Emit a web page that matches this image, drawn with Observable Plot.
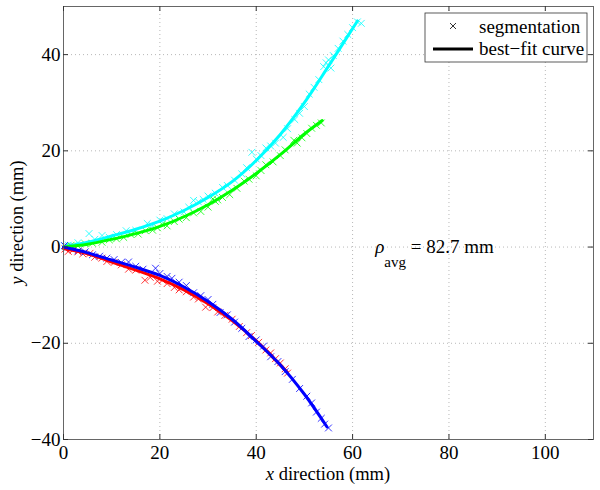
<!DOCTYPE html>
<html>
<head>
<meta charset="utf-8">
<script src="https://cdn.jsdelivr.net/npm/d3@7"></script>
<script src="https://cdn.jsdelivr.net/npm/@observablehq/plot@0.6"></script>
<style>
  html, body { margin: 0; padding: 0; background: white; }
  svg { display: block; }
  svg text { font-family: "Liberation Serif", "Tinos", "Times New Roman", "Nimbus Roman", "DejaVu Serif", serif !important; }
</style>
</head>
<body>
<div id="chart"></div>
<script>
// Axis ticks
const xTicks = [0, 20, 40, 60, 80, 100];
const yTicks = [-40, -20, 0, 20, 40];

// Best-fit curves
const cyanCurveX = [0, 5, 10, 15, 20, 25, 30, 35, 40, 45, 50, 55, 61];
const cyanCurveY = [0, 1.0, 2.3, 3.7, 5.4, 7.6, 10.3, 13.6, 18.0, 23.4, 30.0, 37.6, 47.0];
const greenCurveX = [0, 5, 10, 15, 20, 25, 30, 35, 40, 45, 50, 53.7];
const greenCurveY = [0, 0.6, 1.6, 2.8, 4.3, 6.3, 8.8, 11.8, 15.3, 19.2, 23.5, 26.3];
const redCurveX = [0, 5, 10, 15, 20, 25, 30, 35, 40, 46.4];
const redCurveY = [-0.3, -1.4, -3.1, -4.8, -6.6, -8.9, -11.8, -15.3, -19.5, -26.0];
const blueCurveX = [0, 5, 10, 15, 20, 25, 30, 35, 40, 45, 50, 54.7];
const blueCurveY = [0, -1.2, -2.7, -4.2, -5.9, -8.3, -11.3, -15.0, -19.6, -24.5, -30.6, -37.4];

// Segmentation points
const cyanSegX = [0.3, 1, 2, 3, 5.3, 6.5, 8, 9.5, 11, 13, 15, 17.4, 18.5, 20, 21.5, 23, 25, 26, 27, 28, 29, 30, 31.5, 33, 34, 35.5, 37, 38, 39.1, 40, 41, 42, 43, 44, 45.6, 46.5, 48, 49, 50, 51, 52, 53, 54, 54.5, 55, 55.5, 56, 57, 58, 59, 60, 61, 61.8];
const cyanSegY = [0.2, 0.4, 0.3, 0.9, 2.8, 1.6, 2.4, 2.0, 2.6, 3.4, 3.5, 4.9, 4.4, 5.6, 5.9, 6.9, 7.3, 8.3, 9.7, 9.4, 9.9, 10.6, 11.2, 12.4, 12.8, 13.9, 15.2, 16.5, 19.7, 18.3, 19.0, 20.6, 21.0, 21.6, 22.8, 24.6, 26.5, 27.8, 29.2, 31.8, 33.2, 34.8, 37.5, 38.3, 38.9, 37.2, 39.8, 41.3, 42.8, 44.2, 45.6, 46.8, 46.5];
const greenSegX = [0.5, 1.5, 3, 4.5, 6, 8, 9.5, 11, 12.5, 14, 15.5, 17, 18.5, 19.5, 20.5, 21.5, 23, 24, 25.5, 27, 28.5, 30, 31, 31.5, 32, 33, 34.5, 36, 37.5, 38.5, 40, 41, 42, 43.5, 45, 46, 47.8, 48.5, 49.5, 50.5, 51.5, 52.5, 53.5];
const greenSegY = [0.1, 0.3, 0.2, 0.7, 0.8, 1.0, 1.5, 1.7, 2.0, 2.6, 2.7, 3.4, 3.5, 4.0, 4.7, 4.4, 5.3, 5.8, 6.1, 7.1, 7.4, 8.3, 10.0, 9.5, 9.8, 10.3, 10.9, 12.2, 13.7, 14.1, 14.8, 15.9, 17.1, 17.7, 19.0, 20.2, 22.2, 21.6, 22.7, 23.6, 24.7, 25.3, 25.8];
const redSegX = [0.3, 1, 2, 3, 4, 5.5, 6.5, 8, 9, 10.5, 12, 13.5, 15, 16.9, 18, 19.5, 20.5, 21.5, 23, 24, 25.5, 27, 28, 29.5, 31, 32, 33.5, 35, 36.5, 38, 39, 40.5, 42, 43, 44, 45, 46, 46.5];
const redSegY = [-0.4, -0.9, -0.6, -1.0, -1.4, -1.3, -2.1, -2.3, -3.0, -3.2, -3.7, -4.6, -4.8, -6.9, -6.3, -7.1, -6.9, -7.6, -8.4, -8.9, -9.3, -10.4, -10.8, -12.5, -12.6, -13.5, -14.2, -15.0, -16.5, -17.8, -18.4, -19.8, -21.4, -22.0, -23.2, -24.1, -25.3, -26.2];
const blueSegX = [0.2, 1, 2, 3, 4.5, 6, 7.5, 9, 10.5, 12, 13.5, 15, 16.5, 19.1, 20, 21.5, 22.5, 24, 25.5, 27, 28.5, 30, 31, 32.5, 34, 35.5, 37, 38.5, 40, 41.5, 43, 44.5, 46, 47.5, 49, 50.5, 51.5, 52.5, 53.5, 54.2, 55];
const blueSegY = [0.3, 0, -0.2, -0.8, -1.0, -1.6, -1.9, -2.3, -2.6, -3.2, -3.1, -4.0, -4.6, -4.4, -5.5, -6.1, -6.5, -7.3, -8.0, -9.5, -10.1, -10.9, -11.9, -13.6, -14.1, -15.6, -16.9, -18.6, -19.3, -20.6, -22.8, -23.8, -25.9, -27.5, -29.4, -31.0, -32.4, -34.3, -35.6, -36.8, -37.6];

const seriesColors = ["#00ffff", "#00ff00", "#ff0000", "#0000ff"];
const rhoAvg = "82.7";

const zip = (xs, ys) => xs.map((x, i) => ({x, y: ys[i]}));
const curves = [
  zip(cyanCurveX, cyanCurveY), zip(greenCurveX, greenCurveY),
  zip(redCurveX, redCurveY), zip(blueCurveX, blueCurveY)
];
const segs = [
  zip(cyanSegX, cyanSegY), zip(greenSegX, greenSegY),
  zip(redSegX, redSegY), zip(blueSegX, blueSegY)
];

const W = 600, H = 490, mL = 63, mR = 7, mT = 6, mB = 51;
const plotW = W - mL - mR, plotH = H - mT - mB;
const font = "'Liberation Serif', Tinos, 'Times New Roman', 'Nimbus Roman', 'DejaVu Serif', serif";

const chart = Plot.plot({
  width: W, height: H,
  marginLeft: mL, marginRight: mR, marginTop: mT, marginBottom: mB,
  x: {domain: [0, 110], label: null},
  y: {domain: [-40, 50], label: null},
  style: {fontFamily: font, fontSize: "19px", background: "white", color: "black"},
  marks: [
    Plot.gridX(xTicks, {stroke: "#b8b8b8", strokeOpacity: 1, strokeDasharray: "1,3"}),
    Plot.gridY(yTicks, {stroke: "#b8b8b8", strokeOpacity: 1, strokeDasharray: "1,3"}),
    ...segs.map((d, i) => Plot.dot(d, {x: "x", y: "y", symbol: "times", r: 3.2, stroke: seriesColors[i], strokeWidth: 0.8})),
    ...curves.map((d, i) => Plot.line(d, {x: "x", y: "y", stroke: seriesColors[i], strokeWidth: 3, curve: "catmull-rom"})),
    Plot.frame({stroke: "#666", strokeWidth: 1}),
    Plot.tickX(xTicks, {x: d => d, insetTop: plotH - 5, stroke: "#333"}),
    Plot.tickX(xTicks, {x: d => d, insetBottom: plotH - 5, stroke: "#333"}),
    Plot.tickY(yTicks, {y: d => d, insetRight: plotW - 5, stroke: "#333"}),
    Plot.tickY(yTicks, {y: d => d, insetLeft: plotW - 5, stroke: "#333"}),
    Plot.axisX(xTicks, {tickSize: 0, tickPadding: 6, label: null, tickFormat: d => String(d), fontSize: 19}),
    Plot.axisY(yTicks, {tickSize: 0, tickPadding: 3, label: null, tickFormat: d => d < 0 ? "\u2212" + Math.abs(d) : String(d), fontSize: 19})
  ]
});

const svg = d3.select(chart);
const sx = chart.scale("x"), sy = chart.scale("y");

// x axis label
const xl = svg.append("text")
  .attr("x", (mL + W - mR) / 2).attr("y", 480)
  .attr("text-anchor", "middle")
  .style("font-size", "18.5px").attr("fill", "black");
xl.append("tspan").style("font-style", "italic").text("x");
xl.append("tspan").text(" direction (mm)");

// y axis label
const yl = svg.append("text")
  .attr("transform", `translate(23,${(mT + H - mB) / 2}) rotate(-90)`)
  .attr("text-anchor", "middle")
  .style("font-size", "18.5px").attr("fill", "black");
yl.append("tspan").style("font-style", "italic").text("y");
yl.append("tspan").text(" direction (mm)");

// rho annotation
const ax = sx.apply(64.8), ay = sy.apply(-1.3);
const an = svg.append("text").attr("x", ax).attr("y", ay).attr("text-anchor", "start")
  .style("font-size", "19px").attr("fill", "black");
an.append("tspan").style("font-style", "italic").text("\u03c1");
an.append("tspan").attr("dy", 14).style("font-size", "15px").text("avg");
an.append("tspan").attr("dy", -14).text(` = ${rhoAvg} mm`);

// legend
const lx = sx.apply(110) - 6 - 162, ly = sy.apply(50) + 7;
const lg = svg.append("g").attr("text-anchor", "start");
lg.append("rect").attr("x", lx).attr("y", ly).attr("width", 162).attr("height", 49)
  .attr("fill", "white").attr("stroke", "#333").attr("stroke-width", 0.8);
lg.append("path")
  .attr("d", `M${lx + 25},${ly + 10}l6,6M${lx + 31},${ly + 10}l-6,6`)
  .attr("stroke", "black").attr("stroke-width", 0.8);
lg.append("line").attr("x1", lx + 8).attr("x2", lx + 48).attr("y1", ly + 36).attr("y2", ly + 36)
  .attr("stroke", "black").attr("stroke-width", 3);
lg.append("text").attr("x", lx + 54).attr("y", ly + 20)
  .style("font-size", "19px").attr("fill", "black").text("segmentation");
lg.append("text").attr("x", lx + 54).attr("y", ly + 42)
  .style("font-size", "19px").attr("fill", "black").text("best\u2212fit curve");

document.getElementById("chart").appendChild(chart);
</script>
</body>
</html>
